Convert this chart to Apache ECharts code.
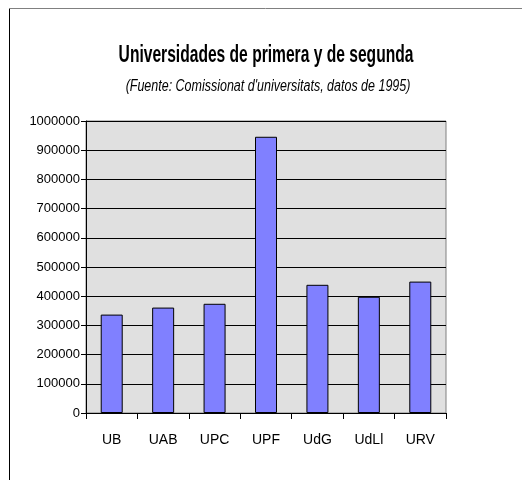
<!DOCTYPE html>
<html>
<head>
<meta charset="utf-8">
<script src="https://cdn.jsdelivr.net/npm/echarts@6/dist/echarts.min.js"></script>
<style>
  html, body { margin: 0; padding: 0; background: #fff; }
  #chart { width: 522px; height: 480px; }
</style>
</head>
<body>
<div id="chart"></div>
<script>
var universidades = ["UB", "UAB", "UPC", "UPF", "UdG", "UdLl", "URV"];
var valores = [337000, 361000, 374000, 946000, 439000, 398000, 450000];
var titulo = "Universidades de primera y de segunda";
var subtitulo = "(Fuente: Comissionat d'universitats, datos de 1995)";

var fuente = '"Liberation Sans", Arial, sans-serif';

var chart = echarts.init(document.getElementById("chart"));
var option = {
	backgroundColor: "#ffffff",
	animation: false,
	grid: {
		left: 86, right: 76, top: 121, bottom: 67,
		show: true,
		backgroundColor: "#e0e0e0",
		borderColor: "#808080",
		borderWidth: 1
	},
	xAxis: {
		type: "category",
		data: universidades,
		axisLine: { lineStyle: { color: "#000", width: 1 } },
		axisTick: { show: true, inside: false, length: 6, lineStyle: { color: "#000" } },
		axisLabel: { fontFamily: fuente, fontSize: 14, color: "#000", margin: 20 }
	},
	yAxis: {
		type: "value",
		min: 0,
		max: 1000000,
		interval: 100000,
		axisLine: { show: true, lineStyle: { color: "#000", width: 1 } },
		axisTick: { show: true, length: 5, lineStyle: { color: "#000" } },
		axisLabel: {
			fontFamily: fuente, fontSize: 13, color: "#000", margin: 6,
			formatter: function(v){ return String(v); }
		},
		splitLine: { show: true, lineStyle: { color: "#000", width: 1 } }
	},
	series: [{
		type: "bar",
		data: valores,
		barWidth: 22,
		itemStyle: { color: "#8080ff", borderColor: "#000", borderWidth: 1 }
	}],
	graphic: [
		{ type: "line", shape: { x1: 9.5, y1: 8, x2: 9.5, y2: 480 }, style: { stroke: "#000", lineWidth: 1 } },
		{ type: "line", shape: { x1: 9, y1: 8.5, x2: 522, y2: 8.5 }, style: { stroke: "#808080", lineWidth: 1 } },
		{
			type: "group", x: 266, y: 55, scaleX: 0.65,
			children: [{
				type: "text",
				style: { text: titulo, x: 0, y: 0, align: "center", verticalAlign: "middle",
					font: "bold 24px " + fuente, fill: "#000" }
			}]
		},
		{
			type: "group", x: 268, y: 87, scaleX: 0.78,
			children: [{
				type: "text",
				style: { text: subtitulo, x: 0, y: 0, align: "center", verticalAlign: "middle",
					font: "italic 16px " + fuente, fill: "#000" }
			}]
		}
	]
};
chart.setOption(option);
</script>
</body>
</html>
